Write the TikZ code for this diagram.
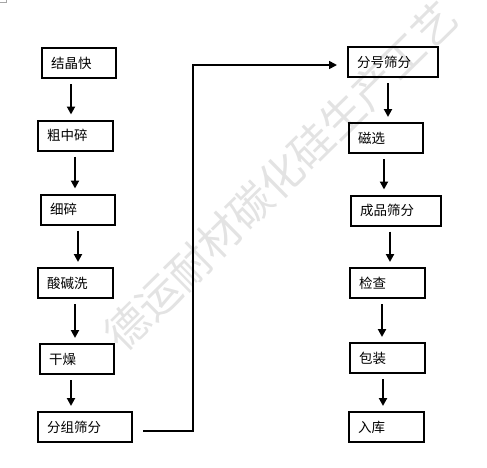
\documentclass[tikz,border=0pt]{standalone}
\usepackage{fontspec}
\newfontfamily\cjk{Noto Sans CJK SC}
\usetikzlibrary{arrows.meta}
\tikzset{
  stage/.style={draw, rectangle, line width=2pt, minimum height=30pt,
    inner xsep=9pt, text width=#1, align=left,
    font=\cjk\fontsize{13.5}{16}\selectfont},
  flow/.style={-{Triangle[width=8pt,length=8pt]}, line width=2pt,
    shorten <=5pt, shorten >=5pt},
  link/.style={-{Triangle[width=8pt,length=8pt]}, line width=1.6pt},
  watermark/.style={text=black!11, rotate=44.5,
    font=\cjk\fontsize{43}{43}\selectfont},
}
\begin{document}
\begin{tikzpicture}[x=1pt,y=-1pt]
  \useasboundingbox (0,0) rectangle (487,467);
  \node[watermark] (wm) at (281,176) {德运耐材碳化硅生产工艺};
  \draw[black!35, line width=0.6pt] (0,2) -- (6,2) -- (6,0);
  % left column
  \node[stage=56pt] (b1) at (79,63) {结晶快};
  \node[stage=57pt] (b2) at (75.5,135.5) {粗中碎};
  \node[stage=56pt] (b3) at (78,209.5) {细碎};
  \node[stage=57pt] (b4) at (75.5,283) {酸碱洗};
  \node[stage=56pt] (b5) at (77,359) {干燥};
  \node[stage=76pt] (b6) at (85,427) {分组筛分};
  % right column
  \node[stage=72pt] (b7) at (393,62) {分号筛分};
  \node[stage=56pt] (b8) at (386,138) {磁选};
  \node[stage=72pt] (b9) at (396,210.5) {成品筛分};
  \node[stage=57pt] (b10) at (387.5,283) {检查};
  \node[stage=57pt] (b11) at (387.5,358) {包装};
  \node[stage=57pt] (b12) at (386.5,427) {入库};
  \begin{scope}
    \draw[flow] (71,0 |- b1.south) -- (71,0 |- b2.north);
    \draw[flow] (75,0 |- b2.south) -- (75,0 |- b3.north);
    \draw[flow] (78,0 |- b3.south) -- (78,0 |- b4.north);
    \draw[flow] (75,0 |- b4.south) -- (75,0 |- b5.north);
    \draw[flow] (71,0 |- b5.south) -- (71,0 |- b6.north);
    \draw[flow] (388,0 |- b7.south) -- (388,0 |- b8.north);
    \draw[flow] (384,0 |- b8.south) -- (384,0 |- b9.north);
    \draw[flow] (390,0 |- b9.south) -- (390,0 |- b10.north);
    \draw[flow] (382,0 |- b10.south) -- (382,0 |- b11.north);
    \draw[flow] (383,0 |- b11.south) -- (383,0 |- b12.north);
  \end{scope}
  \coordinate (turn) at (193,65);
  \draw[link, shorten <=10pt, shorten >=10pt]
    ([yshift=-4pt]b6.east) -| (turn) -- ([yshift=-3pt]b7.west);
\end{tikzpicture}
\end{document}
